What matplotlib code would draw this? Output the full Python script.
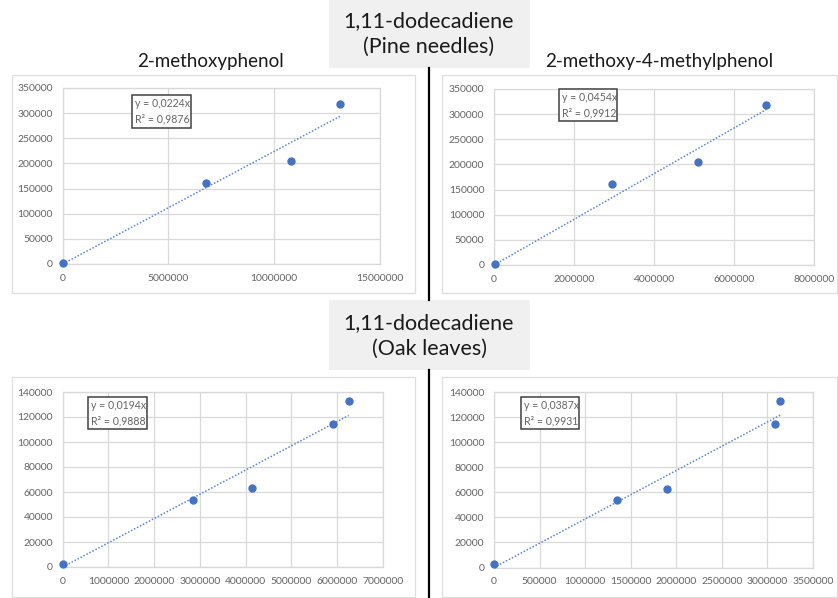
import matplotlib
matplotlib.use("Agg")
import matplotlib.pyplot as plt
from matplotlib.patches import Rectangle
from matplotlib.lines import Line2D
from matplotlib.ticker import MultipleLocator, FuncFormatter

plt.rcParams['font.family'] = ['Lato', 'DejaVu Sans']

# ---------------- data ----------------
group_titles = ["1,11-dodecadiene\n(Pine needles)", "1,11-dodecadiene\n(Oak leaves)"]
compound_titles = ["2-methoxyphenol", "2-methoxy-4-methylphenol"]

pine_y = [2500, 160500, 204500, 317500]
pine_x_methoxyphenol = [0, 6760000, 10790000, 13110000]
pine_x_methylphenol = [30000, 2960000, 5090000, 6810000]

oak_y = [2700, 53700, 62900, 114800, 132500]
oak_x_methoxyphenol = [0, 2840000, 4140000, 5900000, 6250000]
oak_x_methylphenol = [0, 1355000, 1900000, 3080000, 3140000]

slopes = [0.0224, 0.0454, 0.0194, 0.0387]
eq_labels = ["y = 0,0224x\nR² = 0,9876", "y = 0,0454x\nR² = 0,9912",
             "y = 0,0194x\nR² = 0,9888", "y = 0,0387x\nR² = 0,9931"]
x_max = [15000000, 8000000, 7000000, 3500000]
x_step = [5000000, 2000000, 1000000, 500000]
y_max = [350000, 350000, 140000, 140000]
y_step = [50000, 50000, 20000, 20000]

xs = [pine_x_methoxyphenol, pine_x_methylphenol, oak_x_methoxyphenol, oak_x_methylphenol]
ys = [pine_y, pine_y, oak_y, oak_y]

# ---------------- layout (pixels) ----------------
W, H = 838, 598
fig = plt.figure(figsize=(W / 100, H / 100), dpi=100)
fig.patch.set_facecolor("white")

def frect(x0, y0, x1, y1):
    return [x0 / W, 1 - y1 / H, (x1 - x0) / W, (y1 - y0) / H]

def fx(x):
    return x / W

def fy(y):
    return 1 - y / H

# outer chart boxes
chart_boxes = [(12, 75, 415, 293), (442, 75, 837, 293), (12, 377, 415, 597), (442, 377, 837, 597)]
for (x0, y0, x1, y1) in chart_boxes:
    fig.patches.append(Rectangle((fx(x0), fy(y1)), (x1 - x0) / W, (y1 - y0) / H,
                                 transform=fig.transFigure, facecolor="white",
                                 edgecolor="#dedede", lw=0.9, zorder=-2))

# title boxes
for (y0, y1) in [(0, 68), (300, 370)]:
    fig.patches.append(Rectangle((fx(329), fy(y1)), 201 / W, (y1 - y0) / H,
                                 transform=fig.transFigure, facecolor="#f0f0f0",
                                 edgecolor="none", zorder=-2))

# vertical separators
for (y0, y1) in [(68, 300), (370, 598)]:
    fig.lines.append(Line2D([fx(429), fx(429)], [fy(y0), fy(y1)], transform=fig.transFigure,
                            color="black", lw=1.6, zorder=-1))

fig.text(fx(429), fy(34), group_titles[0], ha="center", va="center", fontsize=15.5,
         color="#1a1a1a", linespacing=1.4)
fig.text(fx(429), fy(336), group_titles[1], ha="center", va="center", fontsize=15.5,
         color="#1a1a1a", linespacing=1.4)

fig.text(fx(210), fy(61), compound_titles[0], ha="center", va="center", fontsize=13.5, color="#1a1a1a")
fig.text(fx(659), fy(61), compound_titles[1], ha="center", va="center", fontsize=13.5, color="#1a1a1a")

plot_areas = [(62.7, 88, 380, 264), (494, 89, 814, 265), (62.7, 392, 383, 567), (494, 392, 813, 567.5)]
eq_boxes = [(132, 95, 191, 128), (559, 89, 617, 121), (88, 397, 147, 429), (521, 397, 579, 429)]

grid_c = "#d9d9d9"
lab_c = "#646464"
blue = "#4472C4"

for i in range(4):
    x0, y0, x1, y1 = plot_areas[i]
    ax = fig.add_axes(frect(x0, y0, x1, y1))
    ax.set_zorder(1)
    ax.set_xlim(0, x_max[i])
    ax.set_ylim(0, y_max[i])
    ax.xaxis.set_major_locator(MultipleLocator(x_step[i]))
    ax.yaxis.set_major_locator(MultipleLocator(y_step[i]))
    fmt = FuncFormatter(lambda v, p: f"{int(round(v))}")
    ax.xaxis.set_major_formatter(fmt)
    ax.yaxis.set_major_formatter(fmt)
    ax.grid(True, color=grid_c, lw=0.9)
    ax.set_axisbelow(True)
    for s in ax.spines.values():
        s.set_color(grid_c)
        s.set_linewidth(0.9)
    ax.tick_params(length=0, labelsize=7.5, labelcolor=lab_c, pad=7)
    ax.set_facecolor("none")
    # trend line through origin
    xm = max(xs[i])
    ax.plot([0, xm], [0, slopes[i] * xm], color="#5b84d0", lw=1.1, linestyle=(0, (1, 1.2)), zorder=2,
            clip_on=False)
    ax.plot(xs[i], ys[i], 'o', color=blue, ms=5.0, mec=blue, zorder=3, clip_on=False)

    bx0, by0, bx1, by1 = eq_boxes[i]
    fig.patches.append(Rectangle((fx(bx0), fy(by1)), (bx1 - bx0) / W, (by1 - by0) / H,
                                 transform=fig.transFigure, facecolor="white",
                                 edgecolor="#404040", lw=1.1, zorder=5))
    fig.text(fx(bx0 + 3), fy((by0 + by1) / 2), eq_labels[i], ha="left", va="center",
             fontsize=7.6, color=lab_c, linespacing=1.45, zorder=6)

fig.savefig("out.png", dpi=100)
